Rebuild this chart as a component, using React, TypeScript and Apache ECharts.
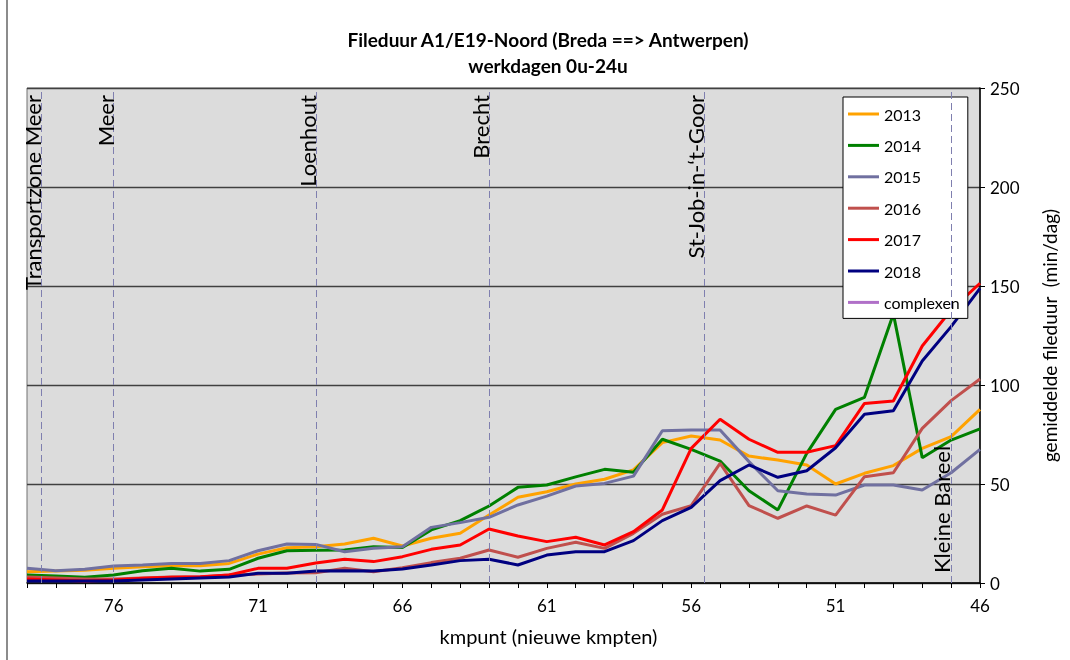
import React, { useEffect, useRef } from "react";
import * as echarts from "echarts";

const km = [79, 78, 77, 76, 75, 74, 73, 72, 71, 70, 69, 68, 67, 66, 65, 64, 63, 62, 61, 60, 59, 58, 57, 56, 55, 54, 53, 52, 51, 50, 49, 48, 47, 46];

const y2013 = [5.7, 6, 6.5, 7.4, 8.2, 8.7, 8.7, 9.9, 14.6, 17.8, 18.3, 19.7, 22.6, 18.7, 22.6, 25.1, 34.3, 43.3, 46.1, 50, 52.4, 57.1, 70.9, 74.2, 72.2, 64.1, 62.1, 59.6, 50, 55.4, 59.3, 68, 73.9, 87.7];
const y2014 = [4, 3.5, 2.9, 4, 6.2, 7.4, 6, 6.9, 12.5, 16.3, 16.5, 16.7, 18.3, 17.9, 26.8, 31.5, 38.9, 48.3, 49.5, 53.6, 57.4, 55.9, 72.6, 67.5, 61.6, 46.6, 36.9, 65.5, 87.7, 93.8, 135.9, 63.3, 72.2, 77.8];
const y2015 = [7.4, 6.2, 6.9, 8.6, 9.1, 9.9, 9.9, 11.3, 16.3, 19.7, 19.5, 15.8, 17.5, 18.3, 28.1, 30.5, 33.2, 39.4, 43.9, 49, 50.3, 54, 76.9, 77.3, 77.3, 61.3, 46.6, 44.9, 44.4, 49.5, 49.5, 47, 55.7, 67.5];
const y2016 = [3, 2.5, 2, 2, 2.5, 3, 3, 4, 4.5, 5, 5.2, 7.4, 5.7, 7.7, 10.3, 12.5, 16.7, 13, 17.5, 20.6, 17.5, 25.1, 34.7, 39.1, 60.4, 39.1, 32.7, 38.9, 34.3, 53.7, 55.7, 78.1, 92.1, 103];
const y2017 = [2, 1.5, 1, 1.5, 2.4, 2.9, 3.2, 4, 7.4, 7.4, 10.1, 12, 10.8, 13.3, 17, 19.2, 27.3, 23.7, 20.9, 23.1, 19.2, 25.9, 36.9, 68, 82.7, 72.6, 66, 66, 69.4, 90.7, 91.9, 119.7, 137.9, 151.4];
const y2018 = [1, 1, 1, 1, 1.5, 2, 2.5, 3, 4.9, 4.9, 6, 6.2, 6, 7.1, 9.1, 11.3, 12, 9.1, 14.1, 15.8, 15.8, 21.4, 31.5, 38.2, 51.7, 59.6, 53.4, 56.7, 68.3, 85.2, 87, 112.1, 129.5, 148.8];
const complexen: number[] = [];

const seriesNames = ["2013", "2014", "2015", "2016", "2017", "2018", "complexen"];
const seriesValues = [y2013, y2014, y2015, y2016, y2017, y2018, complexen];
const seriesColors = ["#FFA200", "#008000", "#7070A0", "#C0504D", "#FF0000", "#000080", "#B070C8"];

const landmarkNames = ["Transportzone Meer", "Meer", "Loenhout", "Brecht", "St-Job-in-\u2018t-Goor", "Kleine Bareel"];
const landmarkKm = [78.5, 76, 69, 63, 55.55, 47];

const titleLines = ["Fileduur A1/E19-Noord (Breda ==> Antwerpen)", "werkdagen 0u-24u"];
const xLabelKm = [76, 71, 66, 61, 56, 51, 46];

const FONT = "Lato, 'Open Sans', sans-serif";

export default function App() {
  const ref = useRef<HTMLDivElement>(null);
  useEffect(() => {
    if (!ref.current) return;
    const chart = echarts.init(ref.current, undefined, { renderer: "svg" });
    const lineSeries = seriesNames.map((name, i) => ({
      name,
      type: "line",
      symbol: "none",
      showSymbol: false,
      z: 3,
      data: seriesValues[i].map((v, j) => [km[j], v]),
      lineStyle: { color: seriesColors[i], width: name === "complexen" ? 2 : 3 },
      itemStyle: { color: seriesColors[i] },
    }));
    const landmarkSeries = {
      name: "landmarks",
      type: "line",
      data: [],
      z: 2,
      markLine: {
        silent: true,
        symbol: ["none", "none"],
        lineStyle: { color: "#7F7FAF", width: 1, type: [7, 4] },
        label: {
          show: true,
          formatter: "{b}",
          position: "insideEndTop",
          color: "#000",
          fontSize: 22,
          fontFamily: FONT,
          distance: [7, -2.5],
        },
        data: landmarkNames.map((name, i) => ({
          name,
          xAxis: landmarkKm[i],
          label:
            name === "Kleine Bareel"
              ? { position: "insideStartTop", distance: [10, -1] }
              : { position: "insideEndTop" },
        })),
      },
    };
    chart.setOption({
      animation: false,
      textStyle: { fontFamily: FONT },
      graphic: [
        {
          type: "rect",
          shape: { x: 7, y: -10, width: 1100, height: 700 },
          style: { fill: "none", stroke: "#8c8c8c", lineWidth: 2 },
          silent: true,
        },
        {
          type: "text",
          x: 548,
          y: 26,
          style: {
            text: titleLines.join("\n"),
            textAlign: "center",
            font: `bold 19px ${FONT}`,
            lineHeight: 26,
            fill: "#000",
          },
        },
      ],
      legend: {
        orient: "vertical",
        left: 843,
        top: 97,
        data: seriesNames,
        icon: "path://M0,0H31V3H0Z",
        itemWidth: 31,
        itemHeight: 14,
        itemGap: 15.4,
        padding: [9, 8, 8, 5],
        backgroundColor: "#fff",
        borderColor: "#000",
        borderWidth: 1,
        textStyle: { fontSize: 16, color: "#000", fontFamily: FONT },
      },
      grid: {
        left: 27,
        right: 90,
        top: 88,
        bottom: 77,
        show: true,
        backgroundColor: "#DCDCDC",
        borderColor: "#707070",
        borderWidth: 1,
      },
      xAxis: {
        type: "value",
        inverse: true,
        min: 46,
        max: 79,
        interval: 1,
        name: "kmpunt (nieuwe kmpten)",
        nameLocation: "middle",
        nameGap: 43,
        nameTextStyle: { fontSize: 20, color: "#000", fontFamily: FONT, padding: [0, 0, 0, 90] },
        axisLine: { lineStyle: { color: "#000", width: 1.5 } },
        axisTick: { show: true, length: 5, lineStyle: { color: "#000" } },
        axisLabel: {
          fontSize: 17,
          color: "#000",
          margin: 14,
          formatter: (v: number) => (xLabelKm.indexOf(v) >= 0 ? String(v) : ""),
        },
        splitLine: { show: false },
      },
      yAxis: {
        type: "value",
        position: "right",
        min: 0,
        max: 250,
        interval: 50,
        name: "gemiddelde fileduur  (min/dag)",
        nameLocation: "middle",
        nameRotate: 90,
        nameGap: 60,
        nameTextStyle: { fontSize: 19, color: "#000", fontFamily: FONT },
        axisLine: { show: true, lineStyle: { color: "#000", width: 1.5 } },
        axisTick: { show: true, length: 5, lineStyle: { color: "#000" } },
        axisLabel: { fontSize: 17, color: "#000", margin: 10 },
        splitLine: { show: true, lineStyle: { color: "#404040", width: 1.3 } },
      },
      series: [landmarkSeries, ...lineSeries],
    });
    return () => chart.dispose();
  }, []);
  return <div ref={ref} style={{ position: "fixed", left: 0, top: 0, width: 1070, height: 660 }} />;
}
